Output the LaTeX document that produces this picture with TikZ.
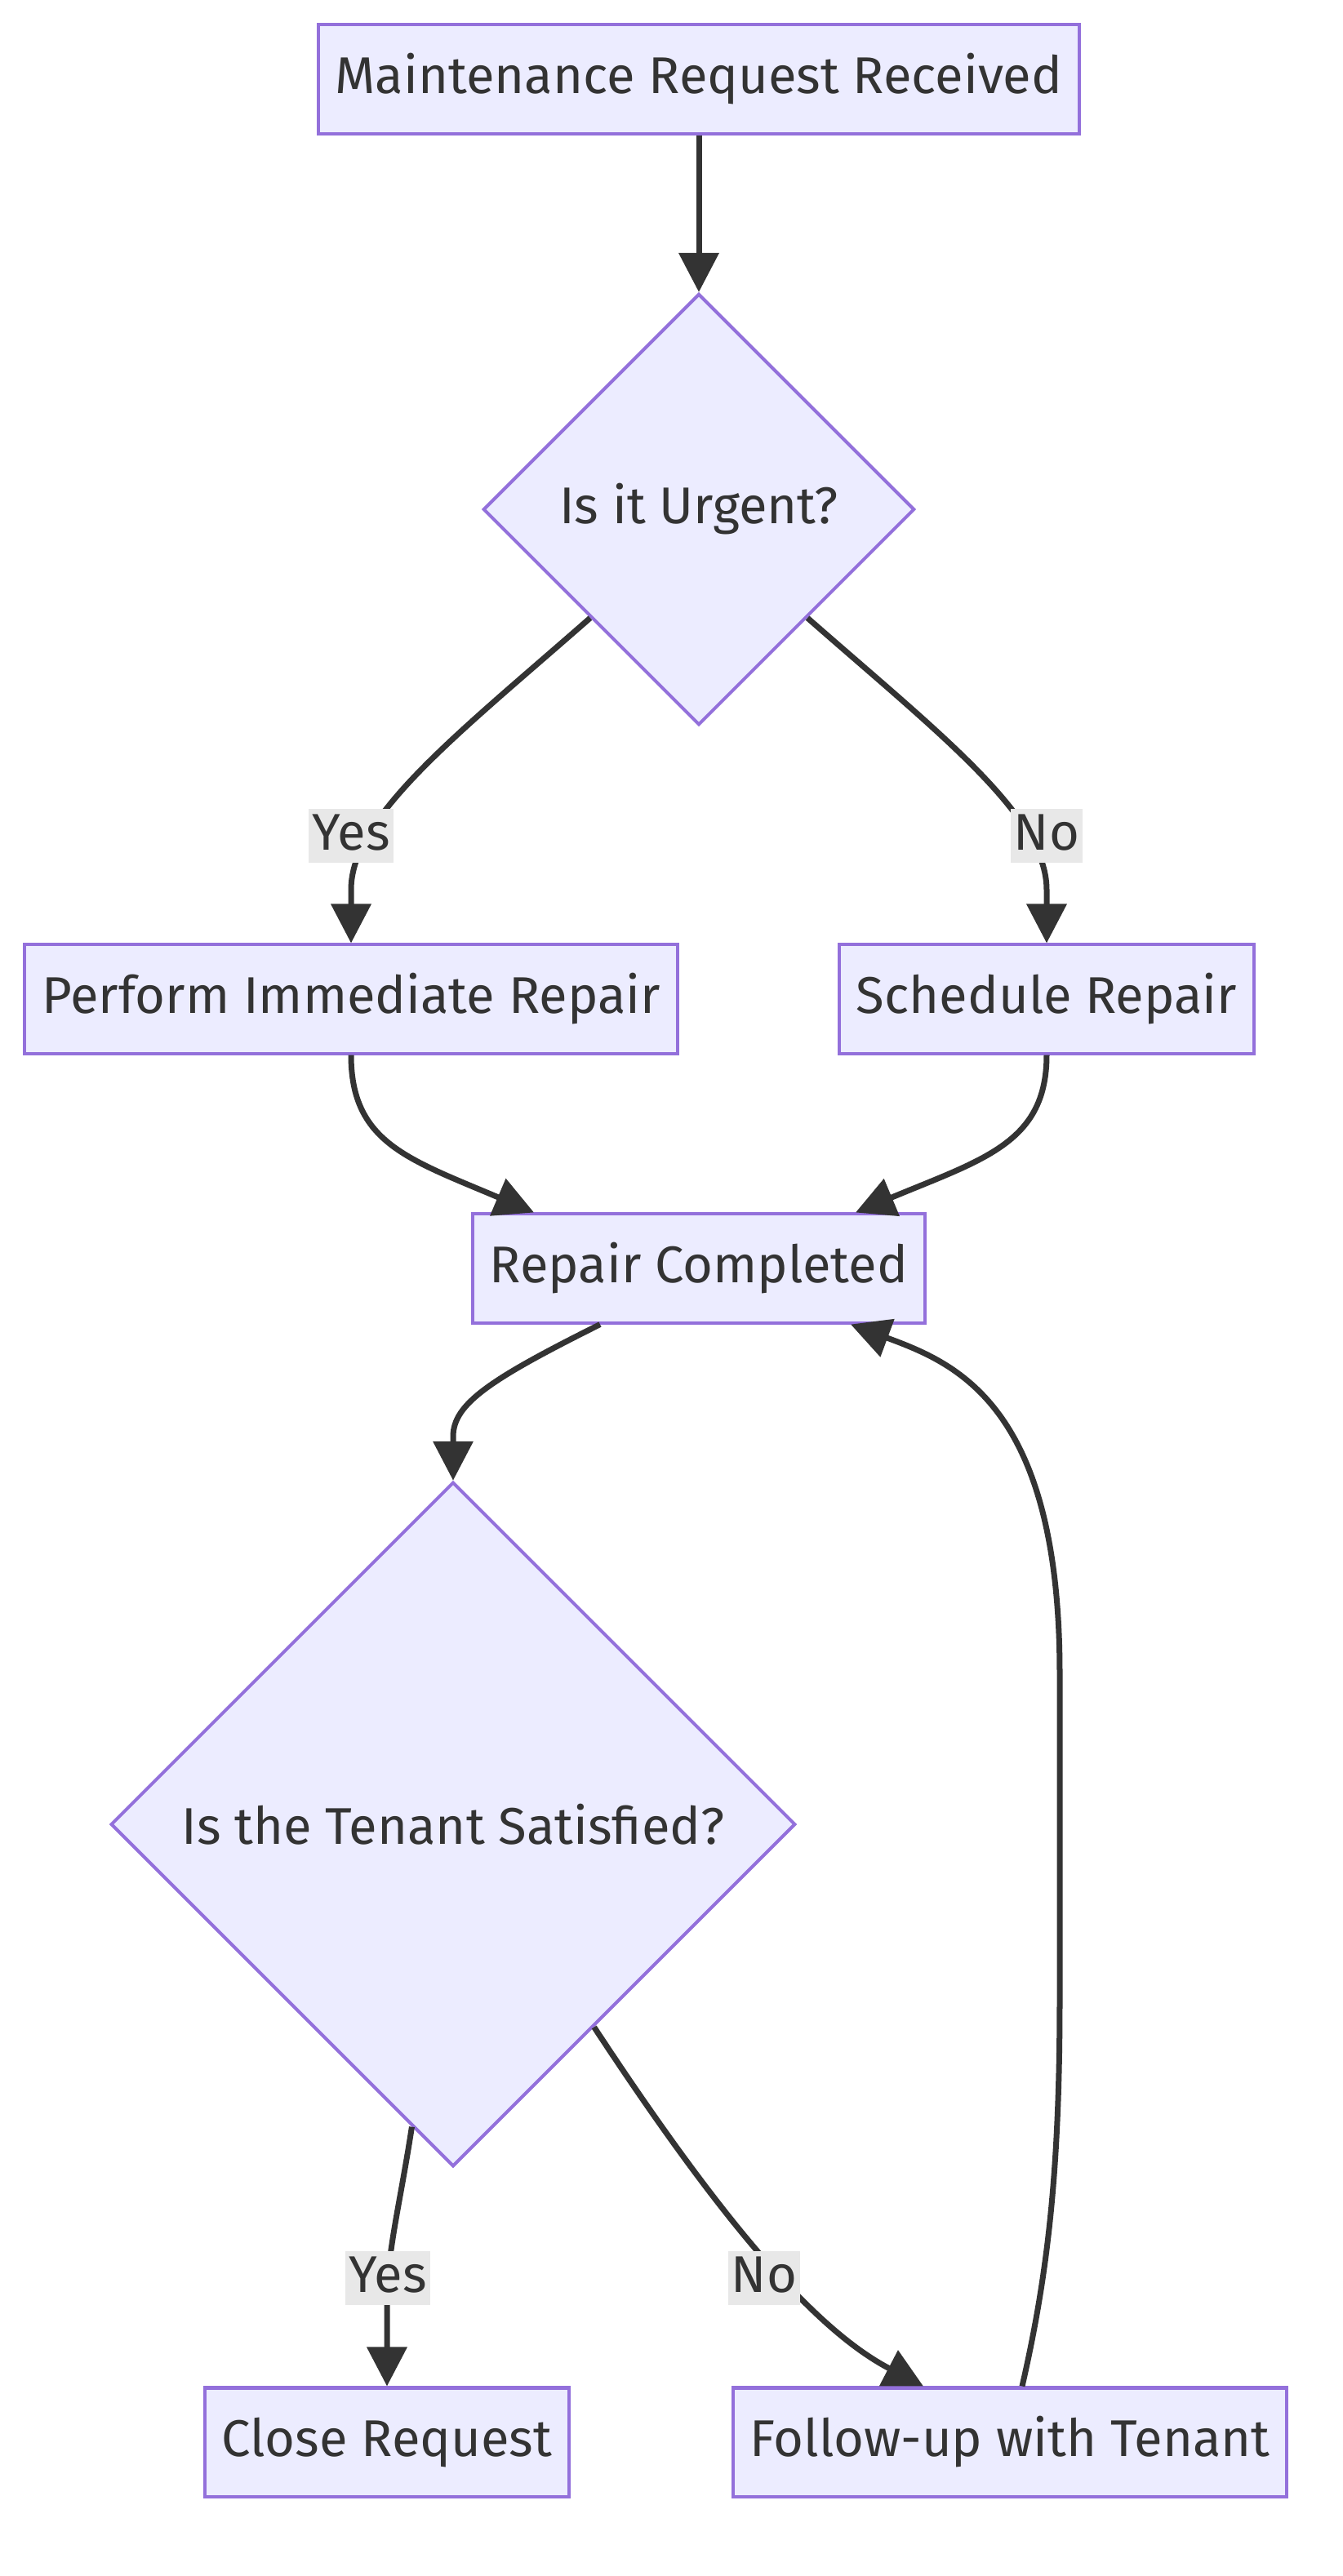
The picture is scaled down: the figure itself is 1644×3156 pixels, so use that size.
\documentclass[tikz,border=0pt]{standalone}
\usepackage{fontspec}
\setmainfont{Fira Sans}
\usetikzlibrary{arrows.meta,calc,shapes.geometric}
\definecolor{boxfill}{HTML}{ECECFF}
\definecolor{boxline}{HTML}{9370DB}
\definecolor{ink}{HTML}{333333}
\definecolor{lblbg}{HTML}{E8E8E8}

\begin{document}
\begin{tikzpicture}[x=0.01cm,y=-0.01cm,
  every node/.style={font=\fontsize{18}{22}\selectfont,text=ink},
  procbox/.style={draw=boxline,fill=boxfill,line width=0.04cm,minimum height=1.33cm,inner xsep=0.21cm},
  decision/.style={diamond,draw=boxline,fill=boxfill,line width=0.04cm,shape aspect=1,inner sep=0pt},
  edgelbl/.style={fill=lblbg,inner xsep=0.04cm,inner ysep=0.02cm,text height=0.48cm,text depth=0.14cm},
  flow/.style={draw=ink,line width=0.07cm,-{Triangle[length=0.48cm,width=0.48cm]}}]
  \fill[white] (0,0) rectangle (1644,3156);
  \useasboundingbox (0,0) rectangle (1644,3156);

  \node[procbox] (req) at (856,97) {Maintenance Request Received};
  \node[decision,minimum width=5.28cm,minimum height=5.28cm] (urgent) at (856,624) {Is it Urgent?};
  \node[procbox] (immed) at (430,1224) {Perform Immediate Repair};
  \node[procbox] (sched) at (1282,1224) {Schedule Repair};
  \node[procbox] (done) at (856,1554) {Repair Completed};
  \node[decision,minimum width=8.38cm,minimum height=8.38cm] (satisfied) at (555,2235) {Is the Tenant Satisfied?};
  \node[procbox] (close) at (474,2992) {Close Request};
  \node[procbox] (follow) at (1237,2992) {Follow-up with Tenant};

  % connectors
  \draw[flow] (req.south) -- (urgent.north);
  \draw[flow] (urgent.south west) .. controls (560,900) and (430,1000) .. (430,1090) -- (immed.north);
  \draw[flow] (urgent.south east) .. controls (1152,900) and (1282,1000) .. (1282,1090) -- (sched.north);
  \draw[flow] (immed.south) .. controls (430,1400) and (500,1420) .. ($(done.north)+(-202,0)$);
  \draw[flow] (sched.south) .. controls (1282,1400) and (1205,1420) .. ($(done.north)+(192,0)$);
  \draw[flow] ($(done.south)+(-121,0)$) .. controls (600,1690) and (555,1720) .. (555,1760) -- (satisfied.north);
  \draw[flow] ($(satisfied.south)!0.12!(satisfied.west)$) .. controls (490,2700) and (474,2760) .. (474,2820) -- (close.north);
  \draw[flow] ($(satisfied.south)!0.41!(satisfied.east)$) .. controls (870,2700) and (990,2850) .. ($(follow.north)+(-106,0)$);
  \draw[flow] ($(follow.north)+(15,0)$) .. controls (1285,2780) and (1298,2650) .. (1298,2450) -- (1298,2050)
    .. controls (1298,1720) and (1170,1670) .. ($(done.south)+(186,0)$);

  % edge labels
  \foreach \n/\x/\y/\t in {yesA/430/1024/Yes,noA/1282/1024/No,yesB/475/2791/Yes,noB/936/2791/No}
    {\node[edgelbl] (\n) at (\x,\y) {\t};}
\end{tikzpicture}
\end{document}
